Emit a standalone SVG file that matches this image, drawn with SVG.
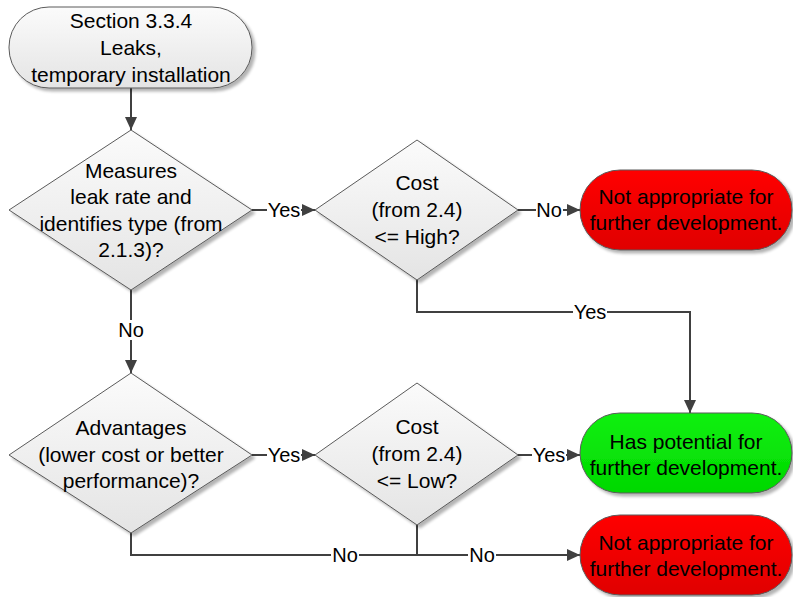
<svg xmlns="http://www.w3.org/2000/svg" width="793" height="597" viewBox="0 0 793 597">
  <defs>
    <linearGradient id="gGray" x1="0" y1="0" x2="0" y2="1">
      <stop offset="0" stop-color="#fbfbfb"/>
      <stop offset="1" stop-color="#e4e4e4"/>
    </linearGradient>
    <linearGradient id="gRed" x1="0" y1="0" x2="0" y2="1">
      <stop offset="0" stop-color="#ff0000"/>
      <stop offset="1" stop-color="#e00000"/>
    </linearGradient>
    <linearGradient id="gGreen" x1="0" y1="0" x2="0" y2="1">
      <stop offset="0" stop-color="#10f010"/>
      <stop offset="1" stop-color="#00d800"/>
    </linearGradient>
    <filter id="shadow" x="-10%" y="-10%" width="130%" height="130%">
      <feGaussianBlur in="SourceAlpha" stdDeviation="1.5"/>
      <feOffset dx="3" dy="3" result="off"/>
      <feComponentTransfer><feFuncA type="linear" slope="0.3"/></feComponentTransfer>
      <feMerge><feMergeNode/><feMergeNode in="SourceGraphic"/></feMerge>
    </filter>
    <marker id="arrow" markerUnits="userSpaceOnUse" markerWidth="13" markerHeight="12" refX="13" refY="6" orient="auto">
      <path d="M0,0 L13,6 L0,12 Z" fill="#404040"/>
    </marker>
  </defs>
  <style>
    .shape { stroke: #5a5a5a; stroke-width: 1; }
    .txt { font-family: "Liberation Sans", Arial, sans-serif; font-size: 21px; fill: #000; text-anchor: middle; }
    .lbl { font-family: "Liberation Sans", Arial, sans-serif; font-size: 20px; fill: #000; text-anchor: middle; }
    .conn { fill: none; stroke: #404040; stroke-width: 2; }
    .lblbg { fill: #ffffff; }
  </style>

  <!-- connectors -->
  <g id="connectors">
    <path class="conn" d="M131,88 L131,130" marker-end="url(#arrow)"/>
    <path class="conn" d="M252,210 L315,210" marker-end="url(#arrow)"/>
    <path class="conn" d="M518,210 L580,210" marker-end="url(#arrow)"/>
    <path class="conn" d="M417,280 L417,312 L690,312 L690,413" marker-end="url(#arrow)"/>
    <path class="conn" d="M131,290 L131,373" marker-end="url(#arrow)"/>
    <path class="conn" d="M252,455 L315,455" marker-end="url(#arrow)"/>
    <path class="conn" d="M518,455 L580,455" marker-end="url(#arrow)"/>
    <path class="conn" d="M131,533 L131,555 L580,555" marker-end="url(#arrow)"/>
    <path class="conn" d="M417,525 L417,555"/>

    <!-- connector labels -->
    <rect class="lblbg" x="267" y="200" width="34" height="20"/>
    <text class="lbl" x="284" y="217">Yes</text>
    <rect class="lblbg" x="536" y="200" width="27" height="20"/>
    <text class="lbl" x="549" y="217">No</text>
    <rect class="lblbg" x="573" y="302" width="34" height="20"/>
    <text class="lbl" x="590" y="319">Yes</text>
    <rect class="lblbg" x="117" y="320" width="28" height="20"/>
    <text class="lbl" x="131" y="337">No</text>
    <rect class="lblbg" x="267" y="445" width="34" height="20"/>
    <text class="lbl" x="284" y="462">Yes</text>
    <rect class="lblbg" x="532" y="445" width="34" height="20"/>
    <text class="lbl" x="549" y="462">Yes</text>
    <rect class="lblbg" x="331" y="545" width="28" height="20"/>
    <text class="lbl" x="345" y="562">No</text>
    <rect class="lblbg" x="468" y="545" width="28" height="20"/>
    <text class="lbl" x="482" y="562">No</text>
  </g>

  <!-- start terminal -->
  <g id="start">
    <rect class="shape" x="9" y="7" width="243" height="81" rx="40" ry="40" fill="url(#gGray)" filter="url(#shadow)"/>
    <text class="txt" x="131" y="28">Section 3.3.4</text>
    <text class="txt" x="131" y="55">Leaks,</text>
    <text class="txt" x="131" y="82">temporary installation</text>
  </g>

  <!-- decision: measures leak rate -->
  <g id="measures">
    <polygon class="shape" points="131,130 252,210 131,290 9,210" fill="url(#gGray)" filter="url(#shadow)"/>
    <text class="txt" x="131" y="178">Measures</text>
    <text class="txt" x="131" y="204">leak rate and</text>
    <text class="txt" x="131" y="231">identifies type (from</text>
    <text class="txt" x="131" y="257">2.1.3)?</text>
  </g>

  <!-- decision: cost high -->
  <g id="costHigh">
    <polygon class="shape" points="417,140 518,210 417,280 315,210" fill="url(#gGray)" filter="url(#shadow)"/>
    <text class="txt" x="417" y="190">Cost</text>
    <text class="txt" x="417" y="217">(from 2.4)</text>
    <text class="txt" x="417" y="244">&lt;= High?</text>
  </g>

  <!-- terminal: not appropriate (upper) -->
  <g id="notAppropriate1">
    <rect class="shape" x="580" y="170" width="212" height="80" rx="40" ry="40" fill="url(#gRed)" filter="url(#shadow)"/>
    <text class="txt" x="686" y="204">Not appropriate for</text>
    <text class="txt" x="686" y="230">further development.</text>
  </g>

  <!-- decision: advantages -->
  <g id="advantages">
    <polygon class="shape" points="131,373 252,455 131,533 9,455" fill="url(#gGray)" filter="url(#shadow)"/>
    <text class="txt" x="131" y="435">Advantages</text>
    <text class="txt" x="131" y="462">(lower cost or better</text>
    <text class="txt" x="131" y="488">performance)?</text>
  </g>

  <!-- decision: cost low -->
  <g id="costLow">
    <polygon class="shape" points="417,383 518,455 417,525 315,455" fill="url(#gGray)" filter="url(#shadow)"/>
    <text class="txt" x="417" y="434">Cost</text>
    <text class="txt" x="417" y="461">(from 2.4)</text>
    <text class="txt" x="417" y="488">&lt;= Low?</text>
  </g>

  <!-- terminal: has potential -->
  <g id="hasPotential">
    <rect class="shape" x="580" y="413" width="212" height="80" rx="40" ry="40" fill="url(#gGreen)" filter="url(#shadow)"/>
    <text class="txt" x="686" y="449">Has potential for</text>
    <text class="txt" x="686" y="475">further development.</text>
  </g>

  <!-- terminal: not appropriate (lower) -->
  <g id="notAppropriate2">
    <rect class="shape" x="580" y="515" width="212" height="80" rx="40" ry="40" fill="url(#gRed)" filter="url(#shadow)"/>
    <text class="txt" x="686" y="550">Not appropriate for</text>
    <text class="txt" x="686" y="576">further development.</text>
  </g>
</svg>
